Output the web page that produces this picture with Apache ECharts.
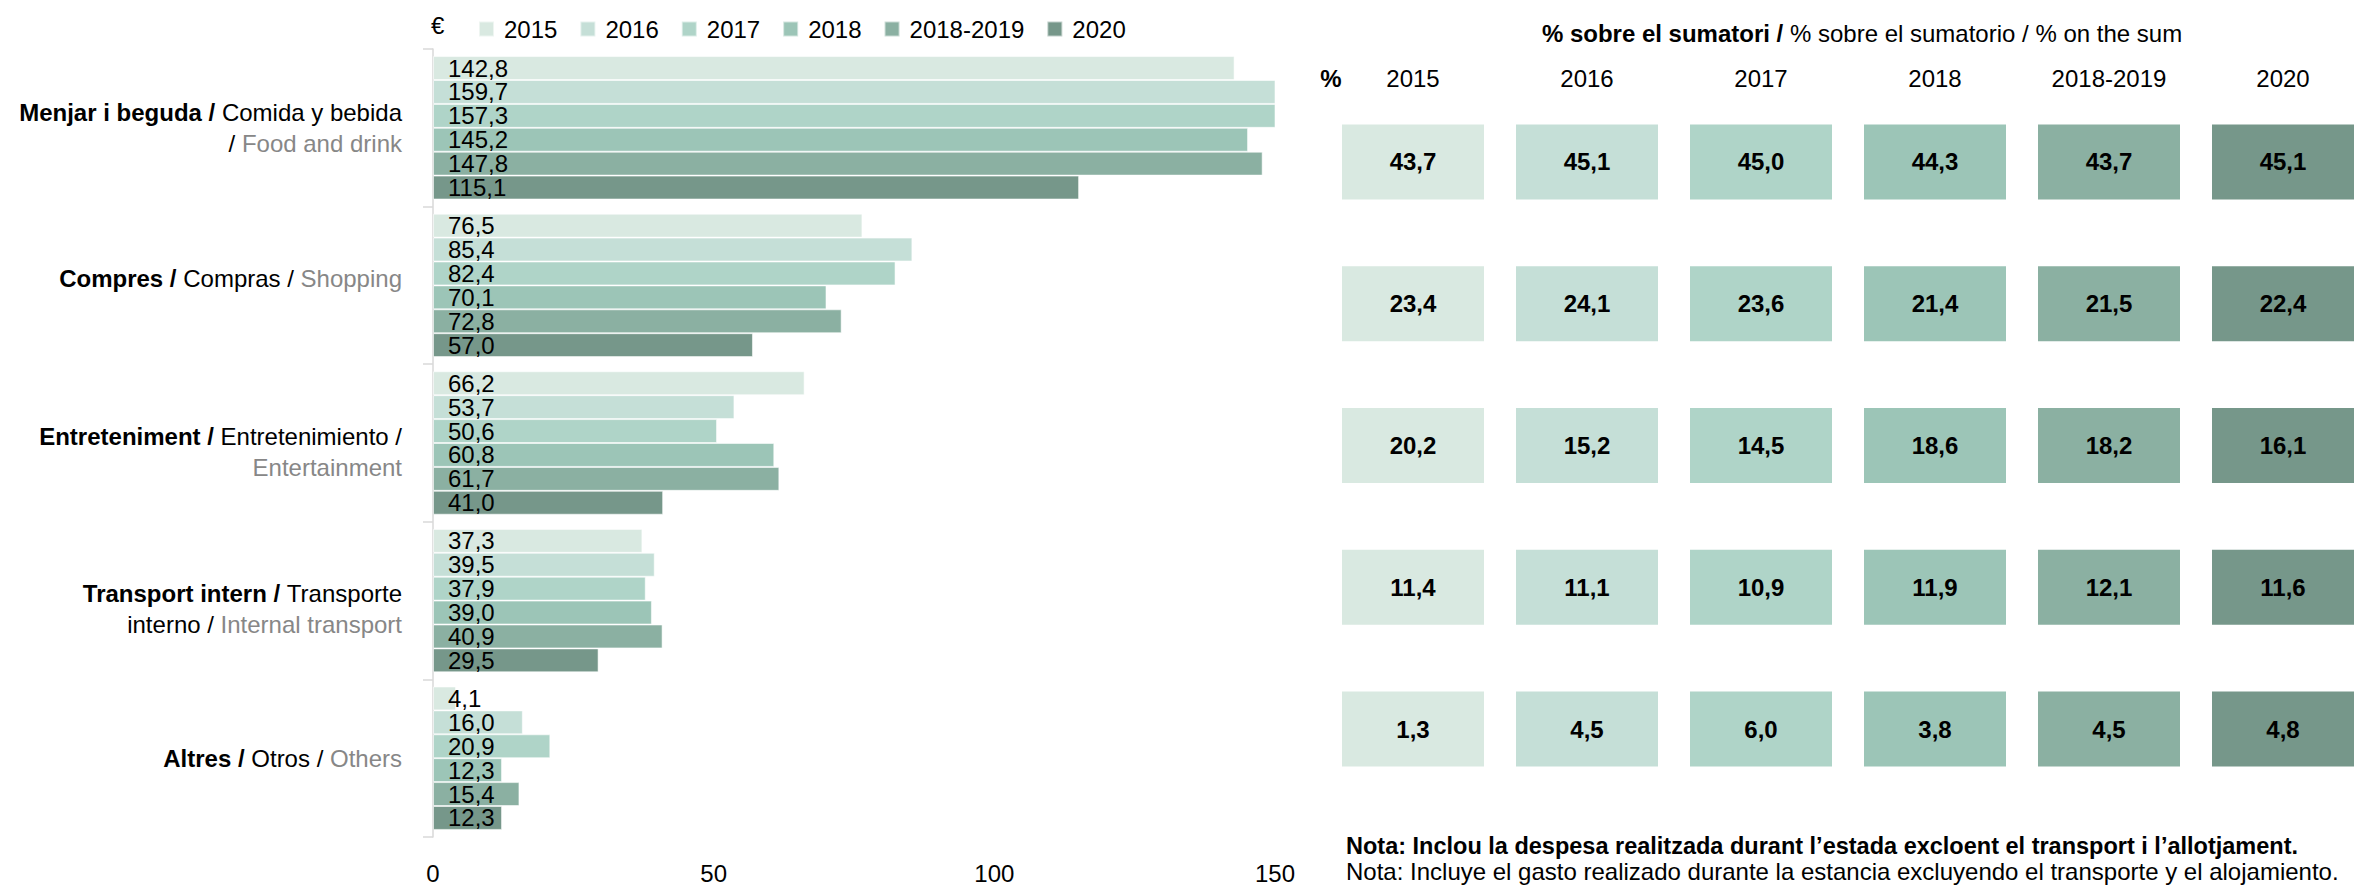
<!DOCTYPE html>
<html>
<head>
<meta charset="utf-8">
<title>Despesa per concepte</title>
<script src="https://cdn.jsdelivr.net/npm/echarts@6/dist/echarts.min.js"></script>
<style>
  html, body { margin: 0; padding: 0; background: #fff; }
  #chart { width: 2370px; height: 885px; }
</style>
</head>
<body>
<div id="chart"></div>
<script>
// Periods (series) and spending concepts (categories)
const years = ['2015', '2016', '2017', '2018', '2018-2019', '2020'];
const categoryKeys = ['menjar', 'compres', 'entreteniment', 'transport', 'altres'];

// Average spending per concept, € (one array per period, in category order)
const spend2015 = [142.8, 76.5, 66.2, 37.3, 4.1];
const spend2016 = [159.7, 85.4, 53.7, 39.5, 16.0];
const spend2017 = [157.3, 82.4, 50.6, 37.9, 20.9];
const spend2018 = [145.2, 70.1, 60.8, 39.0, 12.3];
const spend20182019 = [147.8, 72.8, 61.7, 40.9, 15.4];
const spend2020 = [115.1, 57.0, 41.0, 29.5, 12.3];

// Share of each concept over the sum, % (one array per period)
const share2015 = [43.7, 23.4, 20.2, 11.4, 1.3];
const share2016 = [45.1, 24.1, 15.2, 11.1, 4.5];
const share2017 = [45.0, 23.6, 14.5, 10.9, 6.0];
const share2018 = [44.3, 21.4, 18.6, 11.9, 3.8];
const share20182019 = [43.7, 21.5, 18.2, 12.1, 4.5];
const share2020 = [45.1, 22.4, 16.1, 11.6, 4.8];

// Value axis ticks
const xTicks = [0, 50, 100, 150];

const spendByYear = [spend2015, spend2016, spend2017, spend2018, spend20182019, spend2020];
const shareByYear = [share2015, share2016, share2017, share2018, share20182019, share2020];

const colors = ['#d9e9e1', '#c5dfd7', '#afd4c8', '#9cc5b7', '#8bb0a2', '#76978a'];
const FONT = "'Liberation Sans', Arial, sans-serif";
const FS = 24;
const GREY = '#878787';
const NB = '\u00a0';

// Trilingual category labels (Catalan bold / Spanish / English grey)
const categoryLabels = {
  menjar: `{b|Menjar i beguda /}{r|${NB}Comida y bebida}\n{r|/${NB}}{g|Food and drink}`,
  compres: `{b|Compres /}{r|${NB}Compras /${NB}}{g|Shopping}`,
  entreteniment: `{b|Entreteniment /}{r|${NB}Entretenimiento /}\n{g|Entertainment}`,
  transport: `{b|Transport intern /}{r|${NB}Transporte}\n{r|interno /${NB}}{g|Internal transport}`,
  altres: `{b|Altres /}{r|${NB}Otros /${NB}}{g|Others}`
};

// Small vertical nudges of some category labels (padding top/bottom)
const labelPadding = {
  compres: [0, 0, 14, 0],
  entreteniment: [18, 0, 0, 0],
  transport: [17, 0, 0, 0]
};

const fmt = v => v.toFixed(1).replace('.', ',');

const richStyles = {
  b: { fontFamily: FONT, fontSize: FS, fontWeight: 'bold', color: '#000', lineHeight: 31 },
  r: { fontFamily: FONT, fontSize: FS, color: '#000', lineHeight: 31 },
  g: { fontFamily: FONT, fontSize: FS, color: GREY, lineHeight: 31 }
};

const barSeries = years.map((y, i) => ({
  type: 'bar',
  name: y,
  xAxisIndex: 0,
  yAxisIndex: 0,
  data: spendByYear[i],
  barGap: '0%',
  barCategoryGap: '9%',
  clip: true,
  itemStyle: { color: colors[i], borderColor: 'rgba(255,255,255,0.55)', borderWidth: 1 },
  label: {
    show: true,
    position: 'insideLeft',
    distance: 15,
    formatter: p => fmt(p.value),
    color: '#000',
    fontFamily: FONT,
    fontSize: FS
  },
  emphasis: { disabled: true }
}));

const tileSeries = years.map((y, i) => ({
  type: 'scatter',
  name: y,
  xAxisIndex: 1,
  yAxisIndex: 1,
  symbol: 'rect',
  symbolSize: [142, 75],
  data: shareByYear[i].map((v, c) => [y, categoryKeys[c], v]),
  itemStyle: { color: colors[i], opacity: 1 },
  label: {
    show: true,
    position: 'inside',
    formatter: p => fmt(p.value[2]),
    color: '#000',
    fontFamily: FONT,
    fontSize: FS,
    fontWeight: 'bold'
  },
  emphasis: { disabled: true }
}));

const chart = echarts.init(document.getElementById('chart'), null, { renderer: 'svg' });

chart.setOption({
  animation: false,
  backgroundColor: '#fff',
  textStyle: { fontFamily: FONT },
  legend: {
    data: years,
    left: 473,
    top: 12,
    itemWidth: 15,
    itemHeight: 15,
    itemGap: 22,
    icon: 'rect',
    selectedMode: false,
    textStyle: { fontFamily: FONT, fontSize: FS, color: '#000', padding: [0, 0, 0, 5] }
  },
  grid: [
    { left: 433, top: 49, width: 842, height: 792 },
    { left: 1326, top: 91, width: 1080, height: 709 }
  ],
  xAxis: [
    {
      gridIndex: 0,
      type: 'value',
      min: xTicks[0],
      max: xTicks[xTicks.length - 1],
      interval: xTicks[1] - xTicks[0],
      axisLine: { show: false },
      axisTick: { show: false },
      splitLine: { show: false },
      axisLabel: { margin: 24, fontFamily: FONT, fontSize: FS, color: '#000' }
    },
    {
      gridIndex: 1,
      type: 'category',
      data: years,
      position: 'top',
      axisLine: { show: false },
      axisTick: { show: false },
      splitLine: { show: false },
      axisLabel: { margin: 1, fontFamily: FONT, fontSize: FS, color: '#000' }
    }
  ],
  yAxis: [
    {
      gridIndex: 0,
      type: 'category',
      data: categoryKeys.map(k => (labelPadding[k] ? { value: k, textStyle: { padding: labelPadding[k] } } : k)),
      inverse: true,
      axisLine: { show: true, lineStyle: { color: '#d9d9d9', width: 1.5 } },
      axisTick: { show: true, length: 10, lineStyle: { color: '#d9d9d9', width: 1.5 } },
      axisLabel: {
        margin: 31,
        align: 'right',
        formatter: k => categoryLabels[k],
        rich: richStyles
      }
    },
    {
      gridIndex: 1,
      type: 'category',
      data: categoryKeys,
      inverse: true,
      show: false
    }
  ],
  graphic: [
    {
      type: 'text',
      x: 431,
      y: 25,
      style: { text: '€', verticalAlign: 'middle', fontFamily: FONT, fontSize: FS, fill: '#000' }
    },
    {
      type: 'text',
      x: 1862,
      y: 33,
      style: {
        text: `{b|% sobre el sumatori /}{r|${NB}% sobre el sumatorio /${NB}}{g|% on the sum}`,
        align: 'center',
        verticalAlign: 'middle',
        rich: richStyles
      }
    },
    {
      type: 'text',
      x: 1331,
      y: 78,
      style: {
        text: '%',
        align: 'center',
        verticalAlign: 'middle',
        fontFamily: FONT,
        fontSize: FS,
        fontWeight: 'bold',
        fill: '#000'
      }
    },
    {
      type: 'text',
      x: 1346,
      y: 846,
      style: {
        text: 'Nota: Inclou la despesa realitzada durant l’estada excloent el transport i l’allotjament.',
        verticalAlign: 'middle',
        fontFamily: FONT,
        fontSize: 23.5,
        fontWeight: 'bold',
        fill: '#000'
      }
    },
    {
      type: 'text',
      x: 1346,
      y: 871,
      style: {
        text: 'Nota: Incluye el gasto realizado durante la estancia excluyendo el transporte y el alojamiento.',
        verticalAlign: 'middle',
        fontFamily: FONT,
        fontSize: 24,
        fill: '#000'
      }
    }
  ],
  series: [...barSeries, ...tileSeries]
});
</script>
</body>
</html>
